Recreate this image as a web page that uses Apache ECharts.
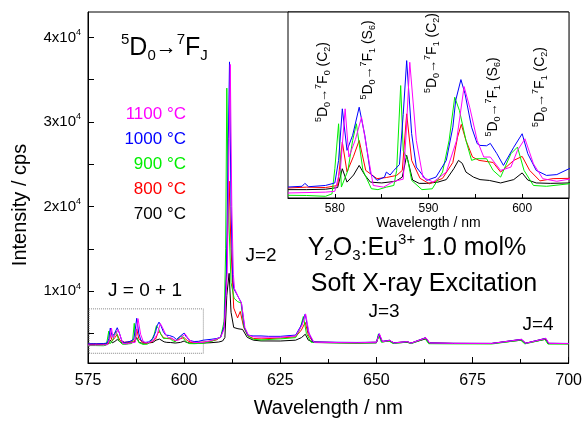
<!DOCTYPE html>
<html><head><meta charset="utf-8">
<script src="https://cdn.jsdelivr.net/npm/echarts@6/dist/echarts.min.js"></script>
<style>html,body{margin:0;padding:0;background:#fff}#c{width:585px;height:423px}</style>
</head><body><div id="c"></div>
<script>
// ---- data (wavelength nm, intensity cps) ----
const temps = ['700 °C', '800 °C', '900 °C', '1000 °C', '1100 °C'];
const s700 = [[575,3700],[577,3700],[579,3710],[580.3,3750],[580.8,4200],[581.3,3880],[582.0,4050],[582.6,4280],[583.2,4050],[583.8,3880],[585,3860],[586.5,3900],[587.2,4000],[587.67,4520],[588.3,3930],[589,3850],[589.8,3850],[591,3880],[591.9,3940],[592.7,4200],[593.2,4400],[593.6,4330],[594,4120],[594.8,4000],[595.5,3940],[596.5,3920],[597.7,3860],[599.1,3940],[600,4100],[600.6,3930],[601.5,3860],[603,3850],[605,3860],[607,3900],[609,3980],[610,4100],[610.6,4500],[611.1,9500],[611.7,12100],[612.2,7500],[612.9,5700],[614,5550],[615.2,5470],[616.4,4540],[618,4200],[620,4110],[625,4100],[629,4200],[630.5,4500],[631.5,4900],[632.3,4200],[634,3920],[640,3880],[645,3850],[650,3880],[650.7,4800],[651.5,4000],[653.4,4100],[654.5,3850],[658,3950],[659,3820],[662.8,4350],[663.8,3840],[670,3810],[680,3800],[687.7,4200],[688.8,3820],[694,4300],[694.8,3800],[700,3780]];
const s800 = [[575,3740],[577,3760],[579,3750],[580.3,3800],[580.8,4840],[581.3,4125],[582.0,4500],[582.6,4877],[583.3,4160],[584.5,3963],[585.5,3990],[586.6,4040],[587.2,4160],[587.67,5514],[588.2,4400],[589.1,3970],[590.1,3840],[591.5,3970],[592.6,4350],[593.1,4955],[593.5,5260],[594,4877],[594.7,4480],[595.4,4400],[596.9,4350],[597.7,4120],[599.1,4400],[600,4495],[600.8,4160],[601.9,3910],[603.3,3963],[605,3970],[607,4080],[608.5,4250],[609.5,4600],[610.4,5800],[611.0,12000],[611.7,23000],[612.2,15000],[612.9,8000],[613.9,6830],[614.6,7600],[615.5,5700],[616.6,4700],[618,4400],[620,4350],[625,4450],[629,4600],[630.5,5400],[631.5,6300],[632.3,4800],[633.5,4000],[640,3920],[645,3900],[650,3950],[650.7,4900],[651.5,4050],[653.4,4180],[654.5,3880],[658,4030],[659,3850],[662.8,4480],[663.8,3870],[670,3820],[680,3810],[687.7,4290],[688.8,3840],[694,4400],[694.8,3820],[700,3800]];
const s900 = [[575,3565],[577,3560],[579,3540],[579.7,3600],[580.0,4200],[580.4,5276],[580.7,3762],[581.4,4160],[581.9,4877],[582.3,5276],[583.0,4160],[583.9,3723],[584.6,3700],[585.5,3760],[586.3,3800],[586.6,4160],[587.03,6190],[587.3,4640],[587.8,4400],[588.2,3922],[589.3,3700],[590.4,3720],[591.5,4120],[592.2,4877],[592.8,5912],[593.3,5594],[594,4877],[594.6,4400],[595.1,4440],[596.2,4440],[596.9,4160],[597.7,4000],[598.8,4560],[599.5,4718],[600.2,4160],[601.2,3800],[602.6,3780],[605,3840],[607,4050],[608.5,4300],[609.5,4540],[610.4,6430],[610.8,15000],[611.1,34000],[611.5,20000],[612.2,11000],[613,9150],[613.9,8760],[614.8,8600],[615.5,5800],[616.6,4700],[618,4300],[620,4230],[625,4350],[629,4500],[630.2,5600],[631.0,7000],[631.8,5000],[633,3950],[640,3880],[645,3860],[650,3900],[650.5,4900],[651.3,3950],[653.2,4120],[654.3,3800],[658,3980],[659,3780],[662.6,4400],[663.6,3780],[670,3760],[680,3750],[687.5,4200],[688.6,3760],[693.8,4300],[694.6,3740],[700,3740]];
const s1000 = [[575,3763],[576.5,3780],[576.8,3850],[577.2,3770],[579,3800],[580.0,3860],[580.4,4400],[580.8,5634],[581.3,4640],[581.9,5000],[582.6,5672],[583.2,5000],[583.8,4090],[584.5,3923],[585.3,4000],[585.5,4120],[585.9,4050],[586.3,4160],[586.9,4300],[587.3,5500],[587.67,6787],[588.2,5040],[588.7,4240],[589.8,3922],[590.8,4000],[591.9,4400],[592.6,5194],[592.9,5832],[593.46,6333],[593.9,5992],[594.6,5194],[595.2,4800],[595.5,4758],[596.2,4750],[596.6,4806],[597.3,4560],[598,4280],[599.1,4714],[600,5037],[600.6,4560],[601.5,4160],[602.6,4040],[603.7,4060],[605,4200],[607,4300],[608.5,4400],[609.5,4560],[610.4,5800],[611.0,12000],[611.5,28000],[611.8,37100],[612.2,20000],[612.6,12000],[612.9,10300],[614.2,9200],[614.9,8600],[615.7,5700],[616.6,4800],[617.9,4700],[620,4700],[622,4650],[625,4650],[629,4800],[630.5,6000],[631.5,7300],[632.3,5200],[633.5,4000],[640,3950],[645,3930],[650,3960],[650.7,4970],[651.5,4050],[653.4,4190],[654.5,3880],[658,4040],[659,3850],[662.8,4500],[663.8,3880],[670,3830],[680,3820],[687.7,4300],[688.8,3840],[694,4420],[694.8,3830],[700,3810]];
const s1100 = [[575,3620],[579,3640],[580.0,3660],[580.6,4200],[581.1,5634],[581.5,4480],[582.2,4900],[582.85,5433],[583.4,4700],[584.1,3800],[585.2,3760],[586.3,3900],[587.3,3950],[587.6,5000],[588.0,6747],[588.7,4877],[589.4,4000],[590.5,3880],[591.9,4120],[593,4877],[593.8,6166],[594.4,5670],[595.2,4877],[595.9,4480],[596.6,4480],[597.7,4160],[598.8,4240],[599.5,4640],[600.3,4917],[601.2,4320],[602.2,3962],[603.7,3900],[605,3950],[607,4150],[608.5,4350],[609.5,4550],[610.4,5500],[611.2,12000],[611.7,28000],[612.0,36800],[612.4,20000],[612.8,12000],[613.1,10300],[614.2,9200],[614.9,8600],[615.8,5700],[616.7,4800],[618,4600],[620,4550],[625,4550],[629,4700],[630.7,6000],[631.6,7300],[632.5,5000],[633.8,3950],[640,3920],[645,3900],[650,3950],[650.8,4950],[651.6,4030],[653.5,4170],[654.6,3860],[658,4030],[659,3840],[662.9,4480],[663.9,3860],[670,3820],[680,3810],[687.8,4280],[688.9,3830],[694.1,4400],[694.9,3820],[700,3800]];
const seriesData = [s700, s800, s900, s1000, s1100];
const yLabelValues = [10000, 20000, 30000, 40000];
const yTickValues = [5000, 10000, 15000, 20000, 25000, 30000, 35000, 40000];
const insetLabelValues = [580, 590, 600];
const insetTickValues = [580, 585, 590, 595, 600];
const zoomBox = [[575.3, 2650], [605, 7900]];
const arrows = [[[588.55, 6020], [589.1, 6360]], [[592.64, 6070], [592.1, 6310]]];

// ---- styles ----
const colors = ['#000000', '#ff0000', '#00ee00', '#0000ff', '#ff00ff'];
const F = 'Liberation Sans, Arial, sans-serif';
function rich(fs, small, arrowFs) {
  const lh = Math.round(fs * 1.25);
  return {
    n: {fontSize: fs, lineHeight: lh, fontFamily: F, color: '#000', verticalAlign: 'middle'},
    a: {fontSize: arrowFs || fs, lineHeight: lh, fontFamily: F, color: '#000', verticalAlign: 'middle'},
    sup: {fontSize: small, lineHeight: small, fontFamily: F, color: '#000', verticalAlign: 'top'},
    sub: {fontSize: small, lineHeight: small, fontFamily: F, color: '#000', verticalAlign: 'bottom'}
  };
}
function txt(x, y, text, fs, opts) {
  opts = opts || {};
  return {
    type: 'text', x: x, y: y, rotation: opts.rot || 0, z: 100,
    style: {
      text: text, fontSize: fs, fontFamily: F, fill: opts.color || '#000',
      textAlign: opts.align || 'center', textVerticalAlign: 'middle',
      rich: opts.rich
    }
  };
}
const tr = (a, b) => `{sup|5}{n|D}{sub|0}{a|→}{sup|7}{n|F}{sub|${a}}{n| (C}{sub|${b}}{n|)}`;
const trS = (a) => `{sup|5}{n|D}{sub|0}{a|→}{sup|7}{n|F}{sub|${a}}{n| (S}{sub|6}{n|)}`;
const R14 = rich(14, 9, 13);

const series = [];
seriesData.forEach((d, i) => {
  const main = {
    type: 'line', xAxisIndex: 0, yAxisIndex: 0, data: d, symbol: 'none', showSymbol: false,
    lineStyle: {width: 1, color: colors[i]}, itemStyle: {color: colors[i]}, z: 2 + i, silent: true
  };
  const inset = {
    type: 'line', xAxisIndex: 1, yAxisIndex: 1, data: d.filter(p => p[0] <= 607), symbol: 'none', showSymbol: false,
    lineStyle: {width: 1, color: colors[i]}, itemStyle: {color: colors[i]}, z: 12 + i, silent: true, clip: true
  };
  if (i === 0) {
    main.markArea = {
      silent: true,
      itemStyle: {color: 'rgba(0,0,0,0)', borderColor: '#888', borderWidth: 1, borderType: 'dotted'},
      data: [[{coord: zoomBox[0]}, {coord: zoomBox[1]}]]
    };
    inset.markLine = {
      silent: true, symbol: ['none', 'arrow'], symbolSize: 5,
      lineStyle: {color: '#000', width: 1, type: 'solid'}, label: {show: false},
      data: arrows.map(a => [{coord: a[0]}, {coord: a[1]}])
    };
  }
  series.push(main, inset);
});

const chart = echarts.init(document.getElementById('c'), null, {renderer: 'canvas'});
chart.setOption({
  animation: false,
  backgroundColor: '#fff',
  grid: [
    {left: 88, top: 12, width: 482, height: 357, show: true, borderColor: '#000', borderWidth: 1, backgroundColor: '#fff'},
    {left: 288, top: 12, width: 281, height: 186, show: true, borderColor: '#000', borderWidth: 1, backgroundColor: '#fff', z: 10}
  ],
  xAxis: [
    {type: 'value', gridIndex: 0, min: 575, max: 700, interval: 25,
      axisLine: {show: true, lineStyle: {color: '#000', width: 1}},
      axisTick: {show: true, inside: true, length: 6, lineStyle: {color: '#000'}},
      minorTick: {show: true, splitNumber: 2, length: 4, lineStyle: {color: '#000'}},
      splitLine: {show: false}, minorSplitLine: {show: false},
      axisLabel: {fontSize: 16, fontFamily: F, color: '#000', margin: 10},
      name: 'Wavelength / nm', nameLocation: 'middle', nameGap: 35,
      nameTextStyle: {fontSize: 20, fontFamily: F, color: '#000'}},
    {type: 'value', gridIndex: 1, min: 575, max: 605,
      axisLine: {show: true, lineStyle: {color: '#000', width: 1}},
      axisTick: {show: true, inside: true, length: 4, customValues: insetTickValues, lineStyle: {color: '#000'}},
      splitLine: {show: false},
      axisLabel: {fontSize: 12, fontFamily: F, color: '#000', margin: 5, customValues: insetLabelValues},
      name: 'Wavelength / nm', nameLocation: 'middle', nameGap: 16, z: 20,
      nameTextStyle: {fontSize: 14, fontFamily: F, color: '#000'}}
  ],
  yAxis: [
    {type: 'value', gridIndex: 0, min: 1500, max: 43000,
      axisLine: {show: true, lineStyle: {color: '#000', width: 1}},
      axisTick: {show: true, inside: true, length: 6, customValues: yTickValues, lineStyle: {color: '#000'}},
      splitLine: {show: false},
      axisLabel: {customValues: yLabelValues, margin: 7,
        formatter: v => `{n|${v / 10000}x10}{sup|4}`, rich: rich(15, 9)}},
    {type: 'value', gridIndex: 1, min: 3500, max: 7950,
      axisLine: {show: true, lineStyle: {color: '#000', width: 1}},
      axisTick: {show: false}, axisLabel: {show: false}, splitLine: {show: false}}
  ],
  series: series,
  graphic: [
    txt(20, 205, 'Intensity / cps', 20, {rot: Math.PI / 2}),
    txt(121, 48, '{sup|5}{n|D}{sub|0}{a|→}{sup|7}{n|F}{sub|J}', 25, {align: 'left', rich: rich(25, 15, 21)}),
    txt(186, 114, temps[4], 17, {align: 'right', color: colors[4]}),
    txt(186, 139, temps[3], 17, {align: 'right', color: colors[3]}),
    txt(186, 164, temps[2], 17, {align: 'right', color: colors[2]}),
    txt(186, 189, temps[1], 17, {align: 'right', color: colors[1]}),
    txt(186, 214, temps[0], 17, {align: 'right', color: colors[0]}),
    txt(145, 291, 'J = 0 + 1', 19),
    txt(261, 256, 'J=2', 19),
    txt(384, 312, 'J=3', 19),
    txt(538, 325, 'J=4', 19),
    txt(417, 248, '{n|Y}{sub|2}{n|O}{sub|3}{n|:Eu}{sup|3+}{n| 1.0 mol%}', 25, {rich: rich(25, 15)}),
    txt(424, 284, 'Soft X-ray Excitation', 25),
    txt(323, 82, tr('0', '2'), 14, {rot: Math.PI / 2, rich: R14}),
    txt(368, 60, trS('1'), 14, {rot: Math.PI / 2, rich: R14}),
    txt(432, 53, tr('1', '2'), 14, {rot: Math.PI / 2, rich: R14}),
    txt(493, 97, trS('1'), 14, {rot: Math.PI / 2, rich: R14}),
    txt(540, 87, tr('1', '2'), 14, {rot: Math.PI / 2, rich: R14})
  ]
});
</script></body></html>
